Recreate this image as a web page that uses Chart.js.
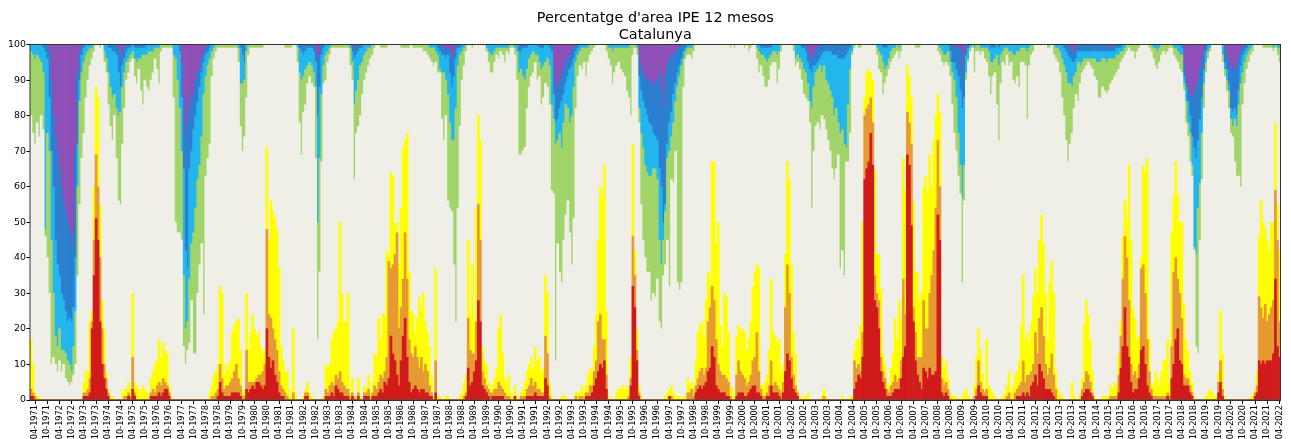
<!DOCTYPE html>
<html>
<head>
<meta charset="utf-8">
<script src="https://cdn.jsdelivr.net/npm/chart.js@4.4.0/dist/chart.umd.min.js"></script>
<style>
  html, body { margin: 0; padding: 0; background: #ffffff; }
  canvas { display: block; }
</style>
</head>
<body>
<canvas id="chart" width="1291" height="439"></canvas>
<script>
// Monthly series, Feb 1971 .. Apr 2022 (one row = Feb..Jan).
// Dry side: levels read from the bottom (percent of area), cumulative.
const startYear = 1971, startMonth = 2;

const dryRedTop = [
  1,1,0,0,0,0,0,0,0,0,0,0,
  0,0,0,0,0,0,0,0,0,0,0,0,
  0,0,1,1,1,2,20,35,51,45,22,10,
  6,3,1,0,0,0,0,0,0,0,0,0,
  1,0,3,1,0,0,0,0,0,0,0,1,
  1,1,1,2,1,2,3,3,1,0,0,0,
  0,0,0,0,0,0,0,0,0,0,0,0,
  0,0,0,0,0,0,0,0,1,5,2,1,
  1,1,1,2,2,2,2,1,0,0,3,2,
  3,4,3,5,5,4,3,4,20,12,9,11,
  7,5,2,1,1,0,0,0,0,0,0,0,
  0,0,0,1,1,0,0,0,0,0,0,0,
  0,1,1,1,2,1,4,3,2,2,1,1,
  1,0,1,0,0,1,0,0,1,1,1,0,
  1,1,1,2,3,2,5,4,6,18,13,11,
  7,4,11,18,23,12,5,2,3,4,3,2,
  3,3,2,2,1,1,0,2,0,0,0,0,
  0,0,0,0,0,0,0,0,0,0,1,9,
  4,5,8,11,28,22,4,3,2,1,0,1,
  1,1,1,1,1,0,0,0,0,0,1,0,
  0,0,0,0,1,1,1,1,2,1,1,1,
  1,6,4,0,0,0,0,0,0,0,0,0,
  0,0,0,0,0,0,0,0,0,1,1,1,
  2,4,6,8,10,9,11,3,0,0,0,0,
  0,0,0,0,0,0,0,4,32,26,11,1,
  0,0,0,0,0,0,0,0,0,0,0,0,
  0,0,1,0,0,0,0,0,0,0,0,0,
  0,0,0,2,3,4,3,4,5,8,9,15,
  12,4,3,2,2,2,1,1,0,0,0,1,
  2,2,2,1,1,2,3,4,4,2,2,1,
  0,0,1,1,4,2,2,2,1,0,2,8,
  13,11,6,3,2,1,0,0,0,0,0,0,
  0,0,0,0,0,0,0,0,0,0,0,0,
  0,0,0,0,0,0,0,0,0,3,5,7,
  6,12,62,65,67,75,66,28,26,20,8,5,
  3,1,1,1,2,3,3,3,6,12,15,69,
  66,49,22,11,7,5,3,9,8,6,9,7,
  7,8,52,45,2,1,2,1,0,0,0,0,
  0,0,0,0,0,0,0,0,0,1,4,2,
  1,1,1,0,0,0,0,0,0,0,0,0,
  0,0,0,0,0,1,1,1,2,1,2,1,
  4,5,7,4,10,8,6,3,3,3,2,1,
  0,0,0,0,0,0,0,0,0,0,0,0,
  0,1,2,3,3,2,1,0,0,0,0,0,
  0,0,0,0,0,0,0,2,9,15,26,15,
  12,5,2,3,3,6,14,15,10,4,2,1,
  0,0,0,0,0,0,0,1,0,6,10,17,
  20,11,10,4,4,4,2,1,0,0,0,0,
  0,0,0,0,0,0,0,0,2,5,1,0,
  0,0,0,0,0,0,0,0,0,0,0,0,
  0,0,1,2,11,10,11,10,11,11,11,13,
  34,15,12
];

const dryOrangeTop = [
  3,2,1,0,0,0,0,0,0,0,0,0,
  0,0,0,0,0,0,0,0,0,0,0,0,
  0,0,2,2,3,6,22,45,69,60,40,20,
  10,6,2,0,0,0,0,0,0,0,1,1,
  2,1,12,2,0,0,0,0,0,0,0,2,
  3,2,4,5,4,6,5,4,2,0,0,0,
  0,0,0,0,0,0,0,0,0,0,0,0,
  0,0,0,0,0,1,1,2,3,10,6,3,
  4,4,5,6,8,10,6,4,1,1,14,5,
  5,5,5,6,7,7,8,10,48,24,23,20,
  17,14,8,4,3,2,1,0,0,2,0,0,
  0,0,0,2,2,0,0,0,0,0,0,0,
  0,3,2,4,5,4,7,6,8,5,4,3,
  3,0,2,1,0,2,0,0,2,2,3,0,
  2,4,3,5,7,6,8,12,39,37,38,41,
  47,20,26,34,47,34,17,13,12,15,12,9,
  12,8,10,8,4,2,0,11,0,0,0,0,
  0,0,0,0,0,0,0,0,0,1,2,23,
  14,13,13,22,55,45,8,6,4,3,2,2,
  3,3,5,4,3,2,1,1,0,0,1,0,
  0,1,1,1,3,4,6,4,5,3,3,2,
  2,18,13,1,0,0,0,0,0,0,0,0,
  0,0,0,0,1,0,1,1,0,2,2,4,
  4,8,11,22,24,17,17,7,0,0,0,0,
  0,0,0,0,0,0,1,6,46,35,14,2,
  0,0,0,0,0,0,0,0,0,0,0,0,
  0,0,1,1,0,0,0,0,0,0,0,2,
  2,3,1,4,6,8,9,7,9,22,26,32,
  28,17,10,8,7,7,6,5,1,0,0,7,
  11,8,7,6,4,5,7,11,12,19,8,3,
  1,1,2,4,11,4,5,4,3,2,5,26,
  38,30,12,7,4,2,0,0,0,0,0,0,
  0,0,0,0,0,0,1,0,0,0,0,0,
  0,0,0,0,0,0,0,0,0,11,9,10,
  8,19,80,82,83,85,78,35,30,28,12,8,
  6,3,2,4,5,7,5,6,11,34,24,81,
  78,72,26,19,12,12,12,28,20,20,30,35,
  42,54,73,60,6,4,5,3,0,0,0,0,
  0,0,0,0,0,0,0,0,1,3,11,5,
  3,2,3,0,0,0,0,0,0,0,0,0,
  1,2,0,0,2,3,4,5,11,5,7,7,
  8,10,19,13,23,26,18,10,7,9,13,7,
  3,0,0,0,0,0,0,0,0,0,0,0,
  0,3,5,8,7,5,2,0,0,0,0,0,
  0,0,0,1,1,1,1,7,18,34,46,40,
  28,10,7,8,6,10,37,38,30,17,8,3,
  1,1,1,1,1,1,1,2,1,15,36,40,
  34,30,23,7,6,6,4,2,0,0,0,0,
  0,0,0,0,0,0,0,0,5,11,3,0,
  0,0,0,0,0,0,0,0,0,0,0,0,
  0,0,2,4,29,26,23,27,22,24,26,28,
  59,45,22
];

const dryYellowTop = [
  17,10,2,1,1,0,0,0,0,0,0,0,
  0,0,0,0,0,0,0,0,0,0,0,0,
  0,0,5,8,8,22,25,60,88,85,55,28,
  20,8,3,1,1,0,0,0,0,2,3,3,
  5,3,30,5,4,3,2,4,3,2,1,6,
  8,10,11,17,12,16,14,13,4,1,0,0,
  0,0,0,0,0,0,0,0,0,0,0,0,
  0,0,0,0,2,4,7,8,10,32,30,7,
  10,8,11,19,21,22,23,14,3,2,30,14,
  19,24,20,18,19,15,13,14,71,45,56,53,
  51,48,37,15,11,8,8,3,1,20,2,0,
  0,0,1,3,5,2,1,0,0,0,0,0,
  1,10,9,10,17,19,20,22,50,30,22,22,
  30,2,6,1,1,6,1,0,4,3,7,2,
  5,13,12,23,17,24,24,42,40,64,63,49,
  50,38,54,71,73,75,36,25,24,19,23,29,
  26,30,22,19,15,7,1,37,1,1,0,0,
  1,1,0,0,0,0,0,1,2,5,7,45,
  24,38,22,54,80,73,15,11,10,5,3,4,
  6,9,20,24,13,6,5,7,2,1,4,1,
  0,2,3,5,8,10,12,9,15,11,12,8,
  9,35,30,5,1,0,0,0,0,1,1,1,
  0,0,0,0,2,2,2,4,2,4,7,9,
  8,15,24,45,60,57,66,25,1,0,0,0,
  2,3,3,4,3,4,3,12,72,42,20,4,
  1,0,0,0,0,0,0,0,0,0,0,0,
  1,2,3,4,2,1,1,1,0,1,1,6,
  4,5,3,11,19,21,22,18,28,36,34,67,
  67,44,50,21,15,30,29,19,4,3,1,18,
  21,19,20,19,14,17,22,32,36,38,37,4,
  4,5,7,14,34,19,18,16,17,8,10,41,
  67,62,38,19,13,3,1,0,1,1,2,0,
  0,0,0,0,0,1,3,1,0,0,0,0,
  0,0,0,1,0,0,0,1,1,14,17,17,
  21,50,85,92,93,92,90,65,41,41,31,13,
  10,5,4,9,13,23,17,28,23,68,59,94,
  91,85,56,36,36,28,30,60,63,58,69,60,
  73,80,86,81,12,9,11,6,2,1,1,1,
  0,0,1,2,3,1,0,0,4,12,20,14,
  7,3,17,4,3,2,1,0,0,0,1,2,
  4,8,2,4,7,8,11,21,35,17,19,16,
  22,29,37,30,45,52,44,30,17,33,39,30,
  8,3,2,1,0,0,0,0,5,1,0,0,
  2,6,21,28,24,17,8,1,0,0,0,1,
  1,1,1,4,3,5,4,13,22,46,56,51,
  66,45,26,23,17,18,40,66,64,68,17,5,
  4,8,6,4,8,11,11,17,5,47,57,67,
  58,50,50,27,17,14,8,5,1,0,0,0,
  0,0,1,2,3,2,1,1,8,25,13,1,
  0,0,0,0,0,0,0,0,0,0,0,0,
  1,1,3,8,46,56,50,48,45,42,50,50,
  78,55,42
];

// Wet side: depths read down from the 100% line, cumulative.
const wetPurpleDepth = [
  0,0,0,0,0,0,0,0,0,2,10,20,
  25,30,35,40,44,47,50,53,57,52,30,8,
  2,0,0,0,0,0,0,0,0,0,0,0,
  0,0,0,0,0,0,0,1,4,2,1,0,
  0,0,0,0,0,0,0,0,0,0,0,0,
  0,0,0,0,0,0,0,0,0,0,0,0,
  0,0,5,15,26,22,18,14,15,10,8,7,
  4,2,1,0,0,0,0,0,0,0,0,0,
  0,0,0,0,0,0,0,0,0,0,0,0,
  0,0,0,0,0,0,0,0,0,0,0,0,
  0,0,0,0,0,0,0,0,0,0,0,0,
  0,0,0,0,0,0,0,0,2,4,3,0,
  0,0,0,0,0,0,0,0,0,0,0,0,
  0,0,0,1,0,0,0,0,0,0,0,0,
  0,0,0,0,0,0,0,0,0,0,0,0,
  0,0,0,0,0,0,0,0,0,0,0,0,
  0,0,0,0,0,0,0,0,0,0,0,1,
  1,1,2,4,3,1,0,0,0,0,0,0,
  0,0,0,0,0,0,0,0,0,0,0,0,
  0,0,0,0,0,0,0,0,0,0,0,0,
  0,0,0,0,0,0,0,0,0,0,0,0,
  0,0,0,0,0,6,11,13,11,9,7,5,
  4,3,2,1,0,0,0,0,0,0,0,0,
  0,0,0,0,0,0,0,0,0,0,0,0,
  0,0,0,0,0,0,0,0,0,0,0,3,
  6,8,9,10,10,11,11,12,10,8,13,18,
  9,6,4,3,3,2,1,1,0,0,0,0,
  0,0,0,0,0,0,0,0,0,0,0,0,
  0,0,0,0,0,0,0,0,0,0,0,0,
  0,0,0,0,0,0,0,0,0,0,0,0,
  0,0,0,0,0,0,0,0,0,0,0,0,
  0,0,0,0,0,0,0,0,0,0,2,4,
  4,3,2,1,0,0,0,0,0,0,0,0,
  0,0,0,0,0,0,0,0,0,0,0,0,
  0,0,0,0,0,0,0,0,0,0,0,0,
  0,0,0,0,0,0,0,0,0,0,0,0,
  0,0,0,0,0,0,0,0,0,0,0,0,
  0,0,0,0,0,0,0,0,0,0,0,1,
  1,1,7,3,0,0,0,0,0,0,0,0,
  0,0,0,0,0,0,0,0,0,0,0,0,
  0,0,0,0,0,0,0,0,0,0,0,0,
  0,0,0,0,0,0,0,0,0,0,0,0,
  0,0,0,0,0,0,0,1,2,2,1,0,
  0,0,0,0,0,0,0,0,0,0,0,0,
  0,0,1,1,0,0,0,0,0,0,0,0,
  0,0,0,0,0,0,0,0,0,0,0,0,
  0,0,0,0,0,0,0,0,0,0,0,0,
  0,0,0,5,9,12,14,15,14,12,10,7,
  4,2,0,0,0,0,0,0,0,0,0,1,
  3,5,7,7,6,7,4,2,1,0,0,0,
  0,0,0,0,0,0,0,0,0,0,0,0,
  0,0,0
];

const wetBlueDepth = [
  0,0,0,0,0,0,1,2,4,15,30,40,
  55,62,65,70,72,75,78,77,78,74,60,28,
  10,3,1,0,0,0,0,0,0,0,0,0,
  0,0,1,1,2,2,3,8,12,6,4,2,
  1,1,0,1,1,1,1,1,1,0,0,0,
  0,0,0,0,0,0,0,0,0,0,0,0,
  0,2,15,35,58,63,35,30,24,20,16,12,
  8,5,3,2,1,0,0,0,0,0,0,0,
  0,0,0,0,0,0,0,1,3,5,0,0,
  0,0,0,0,0,0,0,0,0,0,0,0,
  0,0,0,0,0,0,0,0,0,0,0,0,
  1,2,3,2,1,1,1,2,5,20,12,3,
  1,0,0,0,0,0,0,0,0,0,0,0,
  0,0,2,4,3,2,1,1,0,0,0,0,
  0,0,0,0,0,0,0,0,0,0,0,0,
  0,0,0,0,0,0,0,0,0,0,0,0,
  0,0,0,0,0,0,0,0,1,2,3,3,
  4,3,8,12,9,4,1,1,0,0,0,0,
  0,0,0,0,0,0,0,0,0,0,0,0,
  0,0,0,0,0,0,0,0,0,0,0,0,
  2,2,1,1,1,0,0,0,0,0,1,1,
  1,0,0,1,2,14,22,21,18,16,14,11,
  9,7,6,4,2,1,0,0,0,0,0,0,
  0,0,0,0,0,0,0,0,0,0,0,0,
  0,0,0,0,0,0,0,0,0,0,0,9,
  13,16,18,20,22,23,25,26,27,35,40,50,
  45,28,22,19,14,11,8,6,4,2,1,0,
  0,0,0,0,0,0,0,0,0,0,0,0,
  0,0,0,0,0,0,0,0,0,0,0,0,
  0,0,0,0,0,0,0,0,0,0,0,1,
  1,1,1,1,1,0,0,0,0,0,0,0,
  0,0,0,0,0,0,0,1,1,2,5,7,
  8,6,6,5,4,3,2,2,2,2,3,3,
  3,4,4,4,4,3,2,1,0,0,0,0,
  0,0,0,0,0,0,0,0,0,0,0,1,
  1,1,0,0,0,0,0,0,0,0,0,0,
  0,0,0,0,0,0,0,0,0,0,0,0,
  0,0,0,0,0,0,0,0,2,5,5,7,
  9,13,18,15,3,1,0,0,0,0,0,0,
  0,0,0,0,1,1,1,0,1,0,0,0,
  0,0,0,0,0,0,0,0,0,0,0,0,
  0,0,0,0,0,0,0,0,0,0,0,0,
  0,0,0,0,1,2,3,4,5,5,4,2,
  2,2,2,2,2,2,2,2,2,2,2,2,
  2,2,2,2,2,2,1,1,1,0,0,0,
  0,0,0,0,0,0,0,0,0,0,0,0,
  0,0,0,0,0,0,0,0,0,0,0,0,
  0,0,1,9,12,16,20,26,29,32,27,21,
  15,7,2,0,0,0,0,0,0,0,0,5,
  7,11,18,19,18,20,13,6,3,2,1,0,
  0,0,0,0,0,0,0,0,0,0,0,0,
  0,0,0
];

const wetCyanDepth = [
  2,3,4,3,4,5,8,52,25,30,55,70,
  82,85,80,86,86,87,89,90,92,85,75,40,
  16,8,5,3,2,1,1,0,0,0,0,0,
  2,4,8,12,15,14,18,20,19,12,8,5,
  4,3,2,4,5,4,4,3,3,3,2,2,
  2,1,1,1,0,0,0,0,0,0,3,4,
  10,18,30,65,80,78,66,56,53,46,38,34,
  26,14,9,6,4,2,1,0,0,0,0,0,
  0,0,0,0,0,0,1,11,11,10,2,0,
  0,0,0,0,0,0,0,0,0,0,0,0,
  0,0,0,0,0,0,0,0,0,0,0,1,
  8,10,9,7,6,5,6,8,12,50,32,14,
  6,3,2,1,0,0,0,0,0,0,0,0,
  0,1,5,17,13,10,6,5,3,2,1,1,
  0,0,0,0,0,0,0,0,0,0,0,0,
  0,0,0,0,0,0,0,0,0,0,0,0,
  0,0,0,0,1,1,1,2,3,7,8,8,
  10,14,22,27,27,18,6,3,2,1,0,0,
  0,0,0,0,0,0,0,0,1,2,3,3,
  2,1,1,1,1,1,1,1,0,0,1,2,
  8,7,9,10,7,4,3,2,3,3,5,7,
  6,5,4,6,17,21,28,27,25,29,22,17,
  18,22,20,12,5,3,2,1,1,1,1,0,
  0,0,0,0,0,0,0,0,1,1,2,1,
  1,1,1,1,1,1,1,0,0,0,1,18,
  25,29,34,36,37,37,35,35,38,55,62,55,
  47,32,30,26,22,16,12,9,6,4,2,1,
  1,1,0,0,0,0,0,0,0,0,0,0,
  0,0,0,0,0,0,0,0,0,0,0,0,
  0,0,0,0,0,0,0,0,0,1,2,3,
  3,4,5,4,3,2,2,3,2,0,0,0,
  0,0,0,0,4,3,4,5,7,8,11,16,
  18,12,8,7,6,8,6,10,11,13,15,20,
  18,22,25,24,28,29,17,7,2,0,0,0,
  0,0,0,0,0,0,0,0,1,2,3,5,
  7,6,4,2,1,1,0,1,0,0,0,0,
  0,0,0,0,0,0,0,0,0,0,0,0,
  0,0,0,1,2,3,3,2,5,8,10,15,
  25,34,43,34,8,4,1,0,1,0,0,1,
  1,1,1,2,5,5,4,3,6,3,2,1,
  1,2,2,3,3,2,2,1,1,1,2,1,
  0,0,0,0,0,0,0,0,0,0,0,0,
  1,1,2,4,6,8,11,11,12,9,8,5,
  6,5,4,4,4,4,4,4,5,5,5,4,
  4,5,4,4,4,4,3,3,2,2,1,0,
  0,0,0,0,0,0,0,0,0,0,0,0,
  1,1,2,1,0,0,0,0,0,0,1,1,
  2,3,3,11,16,22,25,34,57,59,46,39,
  25,11,5,2,1,0,0,0,0,0,3,7,
  10,13,21,23,21,23,17,11,8,5,3,2,
  1,0,0,0,0,0,0,0,0,0,0,1,
  0,1,1
];

const wetGreenDepth = [
  20,25,28,22,26,20,24,54,60,70,90,88,
  90,92,89,92,90,94,95,96,95,93,90,65,
  45,32,25,15,10,6,4,2,0,0,1,0,
  5,8,17,23,27,20,32,44,45,28,18,10,
  8,5,4,9,11,7,13,17,10,12,13,10,
  8,4,7,11,2,1,1,1,1,1,15,50,
  53,53,55,85,90,86,84,72,87,87,70,62,
  56,76,37,32,28,9,4,2,1,1,1,1,
  1,1,1,1,1,1,5,23,30,26,15,3,
  1,1,1,1,1,1,1,0,0,0,0,0,
  0,0,0,0,0,1,1,1,1,0,0,5,
  22,31,19,17,11,9,11,12,32,83,64,33,
  11,10,5,3,1,1,1,1,1,1,1,1,
  1,6,10,38,25,23,20,14,10,8,6,4,
  3,1,0,0,1,1,1,1,0,0,0,0,
  0,0,1,1,1,1,1,0,1,1,1,1,
  1,2,2,3,4,5,6,5,8,8,21,27,
  20,44,46,47,62,78,46,23,10,6,2,0,
  0,1,0,0,0,0,0,0,2,5,8,8,
  5,3,4,2,3,5,2,3,1,1,3,10,
  31,31,30,29,18,12,9,8,5,10,9,17,
  15,11,12,17,41,42,89,56,64,67,55,48,
  44,53,62,49,18,9,6,7,5,9,5,3,
  2,1,0,0,0,0,0,2,4,6,11,8,
  6,5,7,8,9,13,15,20,3,1,3,22,
  45,55,60,64,64,72,70,71,66,78,80,65,
  62,55,68,38,39,30,67,69,67,12,4,3,
  3,4,2,0,0,0,0,0,0,0,0,0,
  0,0,0,0,0,0,0,0,1,0,1,0,
  0,0,0,1,0,2,1,0,0,4,8,6,
  9,12,12,10,6,5,5,11,7,2,0,0,
  0,0,0,2,6,5,7,10,14,15,16,22,
  46,30,23,22,24,20,21,24,27,30,35,38,
  35,31,63,58,65,33,33,25,3,1,0,1,
  1,0,0,0,0,0,0,0,3,7,8,14,
  11,9,7,5,4,3,2,4,2,0,0,0,
  0,0,0,1,1,1,0,0,0,0,0,0,
  0,0,2,3,5,6,5,6,9,17,25,30,
  37,42,67,44,10,5,2,1,8,2,2,3,
  2,4,5,9,14,9,8,17,27,11,5,6,
  3,6,5,10,11,9,12,5,5,6,21,6,
  3,2,0,0,0,0,0,0,1,1,0,3,
  4,5,8,15,20,27,33,28,25,18,14,16,
  11,8,7,6,5,6,7,9,10,15,15,12,
  13,14,13,11,10,9,8,7,5,4,3,2,
  1,2,2,4,2,1,0,0,0,0,1,2,
  4,6,7,5,3,2,3,2,1,1,3,4,
  5,7,8,13,22,26,33,37,58,85,87,55,
  38,18,8,4,2,0,0,0,0,0,5,9,
  13,18,25,26,33,37,37,40,17,11,7,5,
  3,2,0,0,0,0,1,1,1,1,1,2,
  1,3,5
];

// month labels "MM-YYYY"
const months = dryRedTop.map((_, i) => {
  const k = startMonth - 1 + i;
  const m = (k % 12) + 1;
  const y = startYear + Math.floor(k / 12);
  return String(m).padStart(2, '0') + '-' + y;
});

// stacked class values built from the readings
const pos = (v) => Math.max(0, v);
const red    = dryRedTop.map(v => v);
const orange = dryOrangeTop.map((v, i) => pos(v - dryRedTop[i]));
const yellow = dryYellowTop.map((v, i) => pos(v - dryOrangeTop[i]));
const green  = wetGreenDepth.map((v, i) => pos(v - wetCyanDepth[i]));
const cyan   = wetCyanDepth.map((v, i) => pos(v - wetBlueDepth[i]));
const blue   = wetBlueDepth.map((v, i) => pos(v - wetPurpleDepth[i]));
const purple = wetPurpleDepth.map(v => v);
const normal = dryYellowTop.map((v, i) => pos(100 - v - wetGreenDepth[i]));

const FONT = "'DejaVu Sans', sans-serif";

const bar = (label, data, color) => ({
  label, data, backgroundColor: color,
  borderWidth: 0, barPercentage: 1, categoryPercentage: 1
});

const frame = {
  id: 'frame',
  afterDraw(chart) {
    const { ctx, chartArea: a } = chart;
    ctx.save();
    ctx.strokeStyle = '#333';
    ctx.lineWidth = 1;
    ctx.strokeRect(a.left, a.top, a.right - a.left, a.bottom - a.top);
    ctx.restore();
  }
};

new Chart(document.getElementById('chart'), {
  type: 'bar',
  data: {
    labels: months,
    datasets: [
      bar('sec extrem', red, '#d11b1b'),
      bar('molt sec', orange, '#e69a33'),
      bar('moderadament sec', yellow, '#ffff00'),
      bar('normal', normal, '#f0efe7'),
      bar('moderadament humit', green, '#a1d56a'),
      bar('molt humit', cyan, '#23b6ee'),
      bar('extremadament humit', blue, '#2b7fd0'),
      bar('excepcionalment humit', purple, '#8e50b8')
    ]
  },
  options: {
    responsive: false,
    animation: false,
    devicePixelRatio: 1,
    layout: { padding: { left: 0, right: 10.5, top: 0, bottom: 0 } },
    plugins: {
      legend: { display: false },
      tooltip: { enabled: false },
      title: {
        display: true,
        fullSize: false,
        text: ["Percentatge d'area IPE 12 mesos", 'Catalunya'],
        color: '#000',
        font: { family: FONT, size: 14.4, weight: 'normal', lineHeight: 1.2 },
        padding: { top: 9.4, bottom: 0.55 }
      }
    },
    scales: {
      x: {
        stacked: true,
        offset: true,
        grid: {
          offset: false,
          drawOnChartArea: false,
          drawTicks: true,
          tickLength: 4,
          tickColor: (c) => (c.index % 6 === 2 ? '#000' : 'rgba(0,0,0,0)')
        },
        border: { display: true, color: '#333' },
        ticks: {
          autoSkip: false,
          minRotation: 90,
          maxRotation: 90,
          padding: 1,
          color: '#000',
          font: { family: FONT, size: 8.2 },
          callback: (v, i) => (i % 6 === 2 ? months[i] : '')
        },
        afterFit: (s) => { s.height = 39; }
      },
      y: {
        stacked: true,
        min: 0,
        max: 100,
        grid: { drawOnChartArea: false, tickLength: 3.5, tickColor: '#000' },
        border: { display: true, color: '#333' },
        ticks: { stepSize: 10, padding: 0.5, color: '#000', font: { family: FONT, size: 9.4 } },
        afterFit: (s) => { s.width = 30; }
      }
    }
  },
  plugins: [frame]
});
</script>
</body>
</html>
